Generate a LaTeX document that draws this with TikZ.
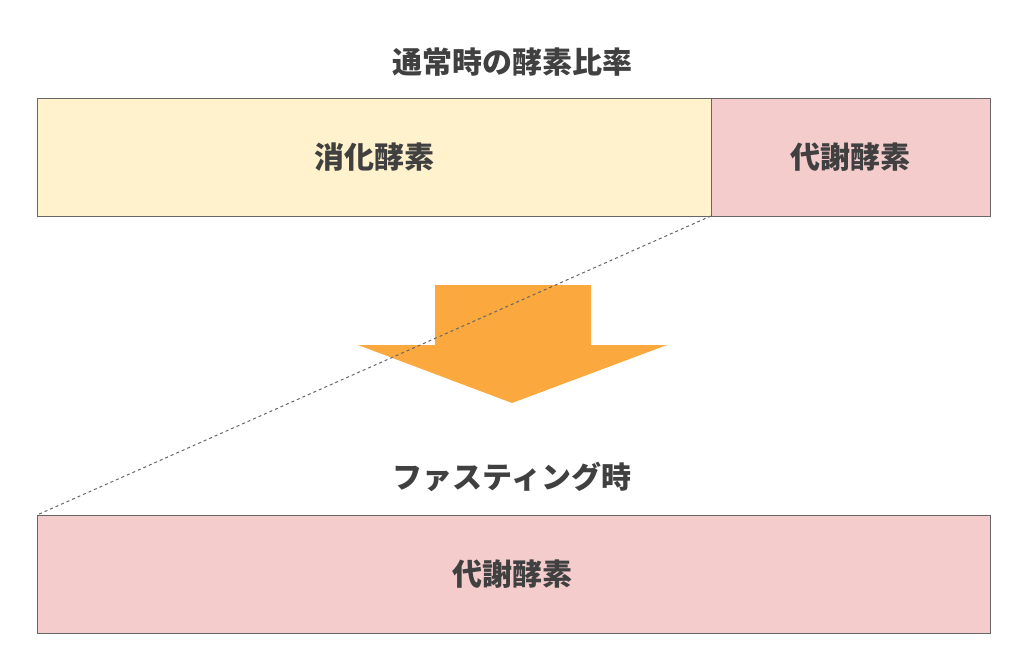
\documentclass[tikz,border=0pt]{standalone}
\usepackage{fontspec}
\newfontfamily\cjk{Noto Sans CJK JP}
\definecolor{txt}{HTML}{404040}
\definecolor{yel}{HTML}{FFF2CC}
\definecolor{pnk}{HTML}{F4CCCC}
\definecolor{org}{HTML}{FBA83F}
\definecolor{bd}{HTML}{666666}
\begin{document}
\begin{tikzpicture}[x=1pt,y=-1pt,
  box/.style={draw=bd,line width=1pt},
  lbl/.style={text=txt,font=\cjk\bfseries\fontsize{30}{36}\selectfont}]
\useasboundingbox (0,0) rectangle (1024,670);
\fill[org] (435,285) -- (591,285) -- (591,345) -- (667,345) -- (512,403) -- (358,345) -- (435,345) -- cycle;
\draw[box,fill=yel] (37,98) rectangle (711,216);
\draw[box,fill=pnk] (711,98) rectangle (990,216);
\draw[box,fill=pnk] (37,515) rectangle (990,633);
\coordinate (a) at (711,216);
\coordinate (b) at (37,515);
\draw[bd,dashed,line width=1pt] (a) -- (b);
\node[lbl] (t1) at (512,62) {通常時の酵素比率};
\node[lbl] (n1) at (374,157) {消化酵素};
\node[lbl] (n2) at (850,157) {代謝酵素};
\node[lbl] (t2) at (512,477) {ファスティング時};
\node[lbl] (n3) at (512,574) {代謝酵素};
\end{tikzpicture}
\end{document}
